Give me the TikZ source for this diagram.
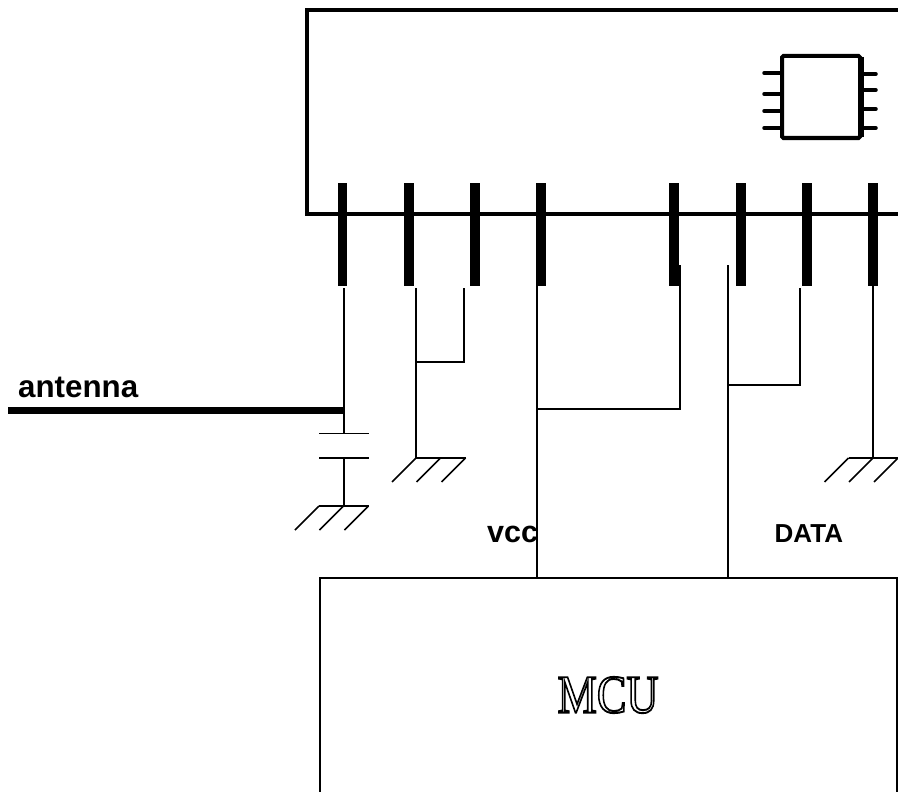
\documentclass[tikz,border=0pt]{standalone}
\usepackage{fontspec}
\setmainfont{Liberation Sans}
\newfontfamily\mcufont{Liberation Serif}
\tikzset{
  wire/.style={draw=black,line width=1.9pt,line cap=rect},
  hatch/.style={draw=black,line width=1.5pt},
  pin/.style={draw=black,line width=9.5pt},
  heavy/.style={draw=black,line width=4pt},
  lead/.style={draw=black,line width=3.5pt,line cap=round},
  lbl/.style={inner sep=0pt,anchor=base west},
}
\newcommand{\gnd}[2]{%
  \draw[hatch] (#2-24.5,#1) -- (#2+25,#1);
  \draw[hatch] (#2-24.5,#1) -- ++(-24,24);
  \draw[hatch] (#2,#1) -- ++(-24,24);
  \draw[hatch] (#2+25,#1) -- ++(-24,24);}
\begin{document}
\begin{tikzpicture}[x=1pt,y=-1pt]
\useasboundingbox (0,0) rectangle (898,792);
% module body
\draw[heavy] (898,10) -- (307,10) -- (307,214) -- (898,214);
% pins
\foreach \n/\x in {a/342.5,b/409,c/475,d/541,e/674,f/741,g/807,h/873}{
  \coordinate (pt\n) at (\x,183);
  \coordinate (pe\n) at (\x,286);
  \draw[pin] (pt\n) -- (pe\n);
}
% chip symbol
\node[draw=black,line width=4pt,minimum width=78pt,minimum height=82pt,inner sep=0pt,outer sep=0pt,rounded corners=1.5pt] (chip) at (821,97) {};
\draw[draw=black,line width=4pt] ([xshift=1.5pt,yshift=-1pt]chip.north east) -- ([xshift=1.5pt,yshift=1pt]chip.south east);
\foreach \y in {73,94,111,128}{\draw[lead] (764,\y) -- (782,\y);}
\foreach \y in {74,90,109,128}{\draw[lead] (862,\y) -- (876,\y);}
% MCU
\node[draw=black,line width=1.6pt,minimum width=577pt,minimum height=240pt,inner sep=0pt,outer sep=0pt,anchor=north west] (mcu) at (320,578) {};
\node[inner sep=0pt,xscale=0.82,transform shape] (mculabel) at (608,695) {\mcufont\fontsize{54}{54}\selectfont\special{pdf:code 1 Tr 1.9 w}MCU\special{pdf:code 0 Tr 1 w}};
% junctions
\coordinate (ant) at (8,410);
\coordinate (antj) at (344,410);
\coordinate (vb) at (537,578);
\coordinate (vt) at (537,266);
\coordinate (vj) at (537,409);
\coordinate (ve) at (680,266);
\coordinate (ej) at (680,409);
\coordinate (db) at (728,578);
\coordinate (dt) at (728,266);
\coordinate (dj) at (728,385);
\coordinate (de) at (800,289);
\coordinate (dk) at (800,385);
% wires
\draw[wire] (344,289) -- (344,433);
\draw[hatch] (319,433.5) -- (369,433.5);
\draw[hatch] (319,458) -- (369,458);
\draw[wire] (344,458) -- (344,506);
\gnd{506}{343.5}
\draw[wire] (416,289) -- (416,458);
\gnd{458}{440.5}
\draw[wire] (416,362) -- (464,362) -- (464,289);
\draw[wire] (873,286) -- (873,458);
\gnd{458}{873}
\draw[draw=black,line width=7pt] (ant) -- (antj);
\draw[wire] (vt) -- (vb);
\draw[wire] (vj) -- (ej) -- (ve);
\draw[wire] (dt) -- (db);
\draw[wire] (dj) -- (dk) -- (de);
% labels
\node[lbl,font=\bfseries\fontsize{31.3}{31.3}\selectfont] (antl) at (18,397) {antenna};
\node[lbl,font=\bfseries\fontsize{30.5}{30.5}\selectfont] (vccl) at (487,542) {vcc};
\node[lbl,font=\bfseries\fontsize{26}{26}\selectfont] (datal) at (774.5,542) {DATA};
\end{tikzpicture}
\end{document}
